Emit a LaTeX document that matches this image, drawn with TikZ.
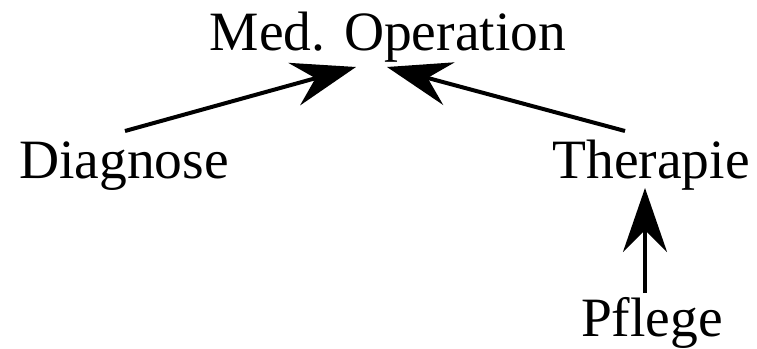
\documentclass[tikz,border=0pt]{standalone}
\usepackage{fontspec}
\setmainfont{Liberation Serif}
\usetikzlibrary{arrows.meta}
\begin{document}
\begin{tikzpicture}[x=1pt,y=1pt,
  lbl/.style={anchor=base,inner sep=0pt,font=\fontsize{55.5}{66}\selectfont},
  arr/.style={line width=4pt,-{Stealth[length=64pt,width=44pt,inset=22pt]}}]
\useasboundingbox (0,0) rectangle (757,348);
\node[lbl] (med) at (388,297) {Med. Operation};
\node[lbl] (diag) at (124,169) {Diagnose};
\node[lbl] (ther) at (651,169) {Therapie};
\node[lbl] (pfl) at (652,12) {Pflege};
\coordinate (d1) at (125,217);
\coordinate (m1) at (356,281);
\coordinate (t1) at (625,217);
\coordinate (m2) at (387,281);
\coordinate (t2) at (645,160);
\coordinate (p1) at (645,55);
\draw[arr] (d1) -- (m1);
\draw[arr] (t1) -- (m2);
\draw[arr] (p1) -- (t2);
\end{tikzpicture}
\end{document}
